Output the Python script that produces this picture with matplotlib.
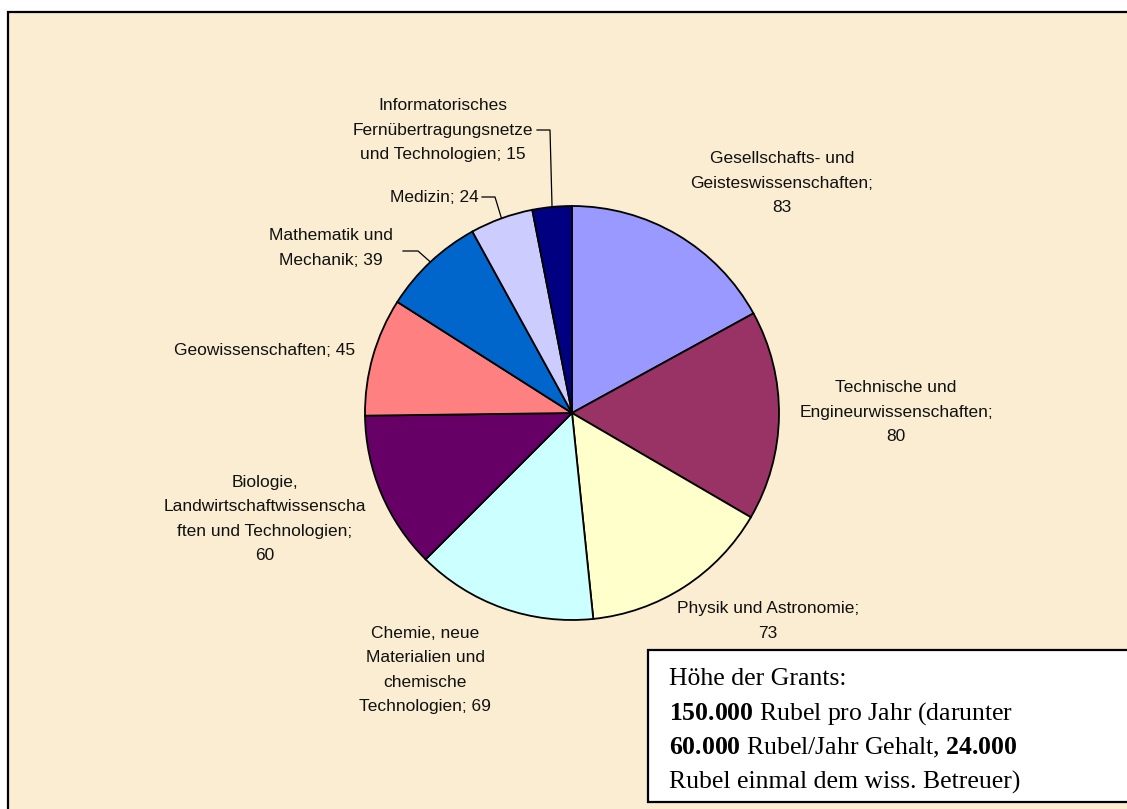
import numpy as np
import matplotlib.pyplot as plt
from matplotlib.patches import Rectangle

plt.rcParams['mathtext.fontset'] = 'custom'
plt.rcParams['mathtext.rm'] = 'Liberation Serif'
plt.rcParams['mathtext.bf'] = 'Liberation Serif:bold'

# Daten
fachgebiete = [
    'Gesellschafts- und\nGeisteswissenschaften;\n83',
    'Technische und\nEngineurwissenschaften;\n80',
    'Physik und Astronomie;\n73',
    'Chemie, neue\nMaterialien und\nchemische\nTechnologien; 69',
    'Biologie,\nLandwirtschaftwissenscha\nften und Technologien;\n60',
    'Geowissenschaften; 45',
    'Mathematik und\nMechanik; 39',
    'Medizin; 24',
    'Informatorisches\nFernübertragungsnetze\nund Technologien; 15',
]
anzahl = [83, 80, 73, 69, 60, 45, 39, 24, 15]
farben = ['#9999FF', '#993366', '#FFFFCC', '#CCFFFF', '#660066',
          '#FF8080', '#0066CC', '#CCCCFF', '#000080']

W, H = 1127, 809
def Y(py):
    # Pixelzeile -> Datenkoordinate
    return H - py

fig = plt.figure(figsize=(W / 100, H / 100), dpi=100, facecolor='white')
ax = fig.add_axes([0, 0, 1, 1])

# Hintergrund (Pergament)
ax.add_patch(Rectangle((8, -20), 1300, Y(12) + 20, facecolor='#FAEDD2',
                       edgecolor='black', linewidth=1.6, zorder=0))

cx, cy, r = 572, 413, 207
ax.pie(anzahl, colors=farben, startangle=90, counterclock=False,
       center=(cx, Y(cy)), radius=r, frame=True,
       wedgeprops=dict(edgecolor='black', linewidth=1.3))

# Beschriftungen (Position in Pixel, Ausrichtung)
pos = [
    (782, 183, 'center'),
    (896, 412, 'center'),
    (768, 621, 'center'),
    (425, 670, 'center'),
    (265, 519, 'center'),
    (265, 350, 'center'),
    (331, 248, 'center'),
    (479, 197, 'right'),
    (443, 130, 'center'),
]
for txt, (px, py, ha) in zip(fachgebiete, pos):
    ax.text(px, Y(py), txt, ha=ha, va='center', fontsize=12.5,
            family='Liberation Sans', linespacing=1.78, color='#111111')

# Fuehrungslinien fuer kleine Segmente
cum = np.cumsum([0] + anzahl)
total = cum[-1]
def randpunkt(i):
    frac = (cum[i] + anzahl[i] / 2) / total
    ang = np.deg2rad(90 - 360 * frac)
    return cx + r * np.cos(ang), Y(cy) + r * np.sin(ang)

leader = {6: (403, 418, 251), 7: (482, 495, 197), 8: (537, 550, 130)}
for i, (x0, x1, py) in leader.items():
    ex, ey = randpunkt(i)
    ax.plot([x0, x1, ex], [Y(py), Y(py), ey], color='black', lw=0.9)

# Textkasten
ax.add_patch(Rectangle((648, Y(802)), 600, 152, facecolor='white',
                       edgecolor='black', linewidth=1.6, zorder=3))
zeilen = [
    'Höhe der Grants:',
    r'$\mathbf{150.000}$ Rubel pro Jahr (darunter',
    r'$\mathbf{60.000}$ Rubel/Jahr Gehalt, $\mathbf{24.000}$',
    'Rubel einmal dem wiss. Betreuer)',
]
for k, z in enumerate(zeilen):
    ax.text(669, Y(679 + k * 34.5), z, ha='left', va='center', fontsize=18.5,
            family='Liberation Serif', zorder=4)

ax.set_xlim(0, W)
ax.set_ylim(0, H)
ax.set_aspect('auto')
ax.axis('off')

fig.savefig('out.png', dpi=100, facecolor='white')
